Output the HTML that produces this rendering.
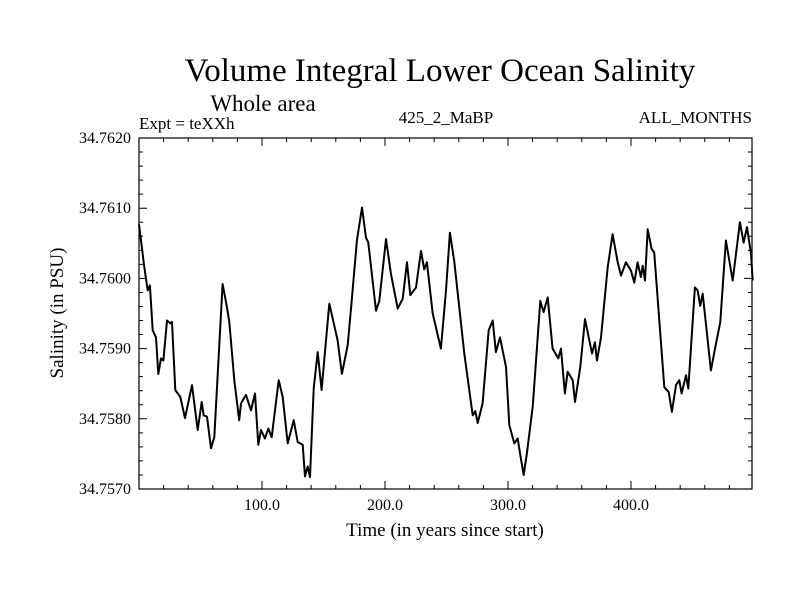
<!DOCTYPE html>
<html><head><meta charset="utf-8"><style>
html,body{margin:0;padding:0;background:#fff;}
svg{display:block;font-family:"Liberation Serif",serif;}
</style></head><body>
<svg id="chart" width="800" height="600" viewBox="0 0 800 600" xmlns="http://www.w3.org/2000/svg">
<rect width="800" height="600" fill="#fff"/>
<text x="440" y="81" font-size="33" text-anchor="middle">Volume Integral Lower Ocean Salinity</text>
<text x="263" y="111" font-size="23" text-anchor="middle">Whole area</text>
<text x="139" y="129" font-size="17">Expt = teXXh</text>
<text x="446" y="123" font-size="17" text-anchor="middle">425_2_MaBP</text>
<text x="752" y="123" font-size="17" text-anchor="end">ALL_MONTHS</text>
<text x="0" y="0" font-size="19" text-anchor="middle" transform="translate(63,313) rotate(-90)">Salinity (in PSU)</text>
<text x="445" y="536" font-size="19" text-anchor="middle">Time (in years since start)</text>
<g id="ticks"></g>
<g id="labels"></g>
<path id="series" fill="none" stroke="#000" stroke-width="2" stroke-linejoin="round"/>
<rect x="139" y="138" width="613" height="351" fill="none" stroke="#000" stroke-width="1.2"/>
</svg>
<script>
const years=[0,4.3,7.1,8.9,11.1,13.8,15.7,17.9,19.8,22.8,25.4,26.8,29.5,33.6,37.4,43.1,47.7,51.0,52.6,55.3,58.5,61.2,68.0,71.3,73.4,77.5,81.5,82.9,87.0,91.1,94.3,97.0,99.2,102.4,105.1,107.9,113.6,116.8,120.9,125.8,129.0,133.1,135.0,137.2,139.0,142.0,145.3,148.5,154.7,161.5,165.0,169.7,172.9,177.2,181.3,184.6,186.4,192.7,195.4,200.8,204.9,210.3,214.4,217.9,220.6,225.2,229.3,231.9,234.1,238.8,245.5,249.6,252.8,256.3,264.5,271.3,273.4,275.4,279.4,284.3,287.6,290.2,293.5,298.4,301.1,305.1,307.9,309.8,312.8,315.4,320.1,326.3,329.0,332.3,336.3,340.9,343.1,346.3,348.5,352.6,354.5,358.8,362.6,366.7,368.3,370.7,372.4,375.6,381.1,385.1,389.2,391.9,395.9,400.0,402.7,405.4,408.1,409.5,411.4,413.6,416.8,418.9,427.1,430.7,433.3,436.6,439.3,441.2,444.7,446.6,452.0,454.2,456.3,458.3,465.0,469.1,472.6,477.2,482.7,488.6,491.6,494.3,497.6,499];
const salinity=[34.76077,34.76016,34.75983,34.75990,34.75926,34.75916,34.75864,34.75886,34.75883,34.75940,34.75936,34.75938,34.75841,34.75831,34.75801,34.75848,34.75784,34.75824,34.75805,34.75803,34.75758,34.75774,34.75992,34.75961,34.75938,34.75855,34.75798,34.75822,34.75834,34.75812,34.75836,34.75763,34.75784,34.75772,34.75786,34.75774,34.75855,34.75831,34.75765,34.75798,34.75767,34.75763,34.75718,34.75732,34.75717,34.75843,34.75895,34.75841,34.75964,34.75912,34.75864,34.75905,34.75968,34.76054,34.76101,34.76058,34.76051,34.75954,34.75968,34.76056,34.76006,34.75957,34.75971,34.76023,34.75976,34.75987,34.76039,34.76013,34.76023,34.75950,34.75900,34.75983,34.76065,34.76025,34.75893,34.75805,34.75811,34.75794,34.75822,34.75926,34.75940,34.75895,34.75916,34.75874,34.75791,34.75765,34.75772,34.75751,34.75720,34.75751,34.75817,34.75968,34.75952,34.75973,34.75900,34.75886,34.75900,34.75836,34.75867,34.75855,34.75824,34.75874,34.75942,34.75907,34.75893,34.75909,34.75883,34.75916,34.76016,34.76063,34.76023,34.76004,34.76023,34.76011,34.75994,34.76023,34.76002,34.76018,34.75997,34.76070,34.76042,34.76037,34.75845,34.75838,34.75810,34.75848,34.75855,34.75836,34.75862,34.75843,34.75987,34.75983,34.75961,34.75978,34.75869,34.75907,34.75938,34.76054,34.75997,34.76080,34.76051,34.76073,34.76035,34.75997];
const xTickLabels=["100.0","200.0","300.0","400.0"];
const xTickValues=[100,200,300,400];
const yTickLabels=["34.7570","34.7580","34.7590","34.7600","34.7610","34.7620"];
const yTickValues=[34.757,34.758,34.759,34.760,34.761,34.762];

const L=139,R=752,T=138,B=489,XMIN=0,XMAX=498.4,YMIN=34.757,YMAX=34.762;
function sx(v){return L+(v-XMIN)/(XMAX-XMIN)*(R-L);}
function sy(v){return B-(v-YMIN)/(YMAX-YMIN)*(B-T);}
const NS="http://www.w3.org/2000/svg";
let d="";
for(let i=0;i<years.length;i++){d+=(i?"L":"M")+sx(years[i]).toFixed(1)+","+sy(salinity[i]).toFixed(1);}
document.getElementById('series').setAttribute('d',d);
const tg=document.getElementById('ticks');
let td="";
for(let t=20;t<XMAX;t+=20){const x=sx(t);const len=(t%100===0)?8:4;td+=`M${x},${B}V${B-len}M${x},${T}V${T+len}`;}
for(let k=1;k<25;k++){const v=YMIN+k*0.0002;const y=sy(v);const len=(k%5===0)?8:4;td+=`M${L},${y}H${L+len}M${R},${y}H${R-len}`;}
const tp=document.createElementNS(NS,'path');
tp.setAttribute('d',td);tp.setAttribute('stroke','#000');tp.setAttribute('stroke-width','1');


tg.appendChild(tp);
const lg=document.getElementById('labels');
for(let i=0;i<xTickValues.length;i++){
  const t=document.createElementNS(NS,'text');
  t.setAttribute('x',sx(xTickValues[i]));t.setAttribute('y',510);t.setAttribute('font-size','16');t.setAttribute('text-anchor','middle');
  t.textContent=xTickLabels[i];
  
  
  lg.appendChild(t);
}
for(let i=0;i<yTickValues.length;i++){
  const t=document.createElementNS(NS,'text');
  t.setAttribute('x',131);t.setAttribute('y',sy(yTickValues[i])+5);t.setAttribute('font-size','16');t.setAttribute('text-anchor','end');
  t.textContent=yTickLabels[i];
  
  
  lg.appendChild(t);
}
</script>
</body></html>
